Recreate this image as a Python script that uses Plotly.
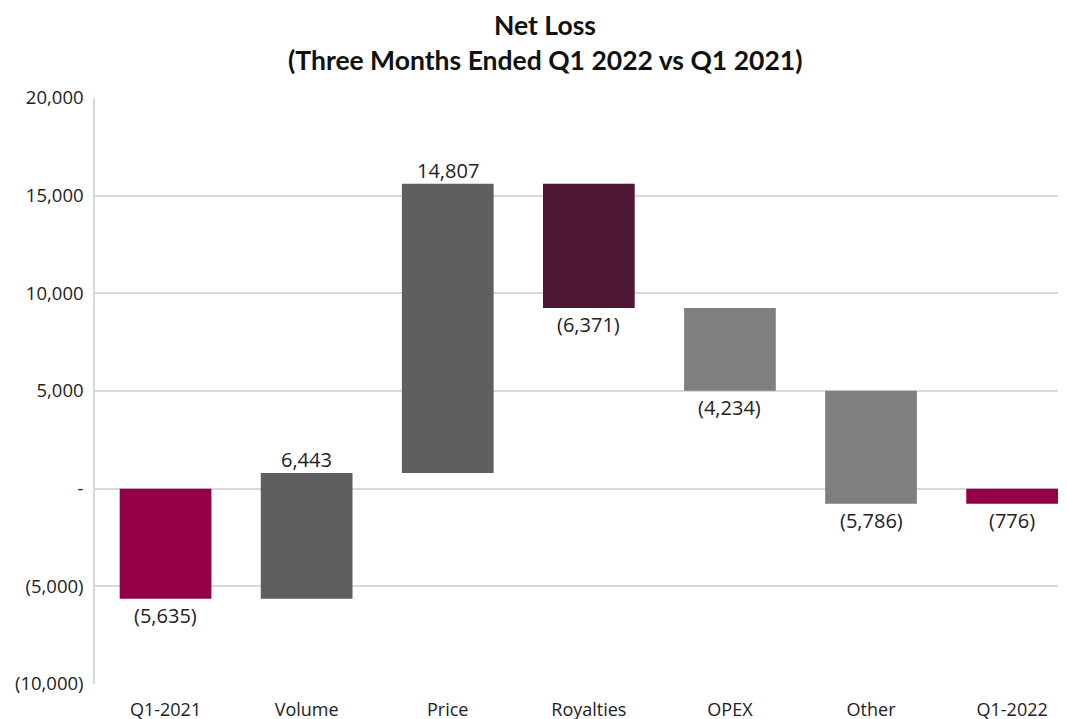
import numpy as np
import plotly.graph_objects as go

categories = ["Q1-2021", "Volume", "Price", "Royalties", "OPEX", "Other", "Q1-2022"]
values = [-5635, 6443, 14807, -6371, -4234, -5786, -776]
kinds = ["total", "change", "change", "change", "change", "change", "total"]
bar_colors = ["#930045", "#5F5F5F", "#5F5F5F", "#4D1632", "#7F7F7F", "#7F7F7F", "#930045"]
tick_vals = [-10000, -5000, 0, 5000, 10000, 15000, 20000]
tick_text = ["(10,000)", "(5,000)", "-", "5,000", "10,000", "15,000", "20,000"]
title_lines = ["Net Loss", "(Three Months Ended Q1 2022 vs Q1 2021)"]


def fmt(v):
    s = f"{abs(v):,}"
    return f"({s})" if v < 0 else s


bases = []
running = 0
for v, k in zip(values, kinds):
    if k == "total":
        bases.append(0)
        running = v
    else:
        bases.append(running)
        running += v

fig = go.Figure()
fig.add_trace(go.Bar(
    x=categories, y=values, base=bases,
    marker=dict(color=bar_colors, line=dict(width=0)),
    width=0.65, hoverinfo="skip",
))

label_font = dict(family="Open Sans, Calibri, sans-serif", size=20, color="#222222")
annotations = []
for c, v, b in zip(categories, values, bases):
    end = b + v
    annotations.append(dict(
        x=c, y=end, xref="x", yref="y", text=fmt(v), showarrow=False,
        yanchor="bottom" if v >= 0 else "top", yshift=-2 if v >= 0 else -1,
        font=label_font,
    ))

# figure geometry (page is offset by the 8px body margin)
L, T, B, R = 87, 90, 43, 17
W, H = 1067, 719
plot_h = H - T - B
plot_w = W - L - R

title_font = dict(family="Lato, Calibri, sans-serif", size=26.5, color="#111111")
title_y_page = [25, 60]
for line, yp in zip(title_lines, title_y_page):
    yfig = yp - 8
    annotations.append(dict(
        x=(545 - 8 - L) / plot_w, xref="paper", xanchor="center",
        y=(H - B - yfig) / plot_h, yref="paper", yanchor="middle",
        text=f"<b>{line}</b>", showarrow=False, font=title_font,
    ))

fig.update_layout(
    width=W, height=H,
    margin=dict(l=L, r=R, t=T, b=B),
    paper_bgcolor="white", plot_bgcolor="white",
    showlegend=False,
    annotations=annotations,
    xaxis=dict(
        range=[-0.5, 6.325], showgrid=False, showline=False, ticks="",
        tickfont=dict(family="Open Sans, Calibri, sans-serif", size=18, color="#222222"),
        ticklabelstandoff=13,
        automargin=False,
    ),
    yaxis=dict(
        range=[-10000, 20000], tickvals=tick_vals, ticktext=tick_text,
        showgrid=True, gridcolor="#D9D9D9", gridwidth=1.5,
        zeroline=False, showline=True, linecolor="#D9D9D9", linewidth=1.5,
        ticks="", ticklabelstandoff=6,
        tickfont=dict(family="Open Sans, Calibri, sans-serif", size=18.5, color="#222222"),
        automargin=False,
    ),
)

fig.write_html("out.html")
